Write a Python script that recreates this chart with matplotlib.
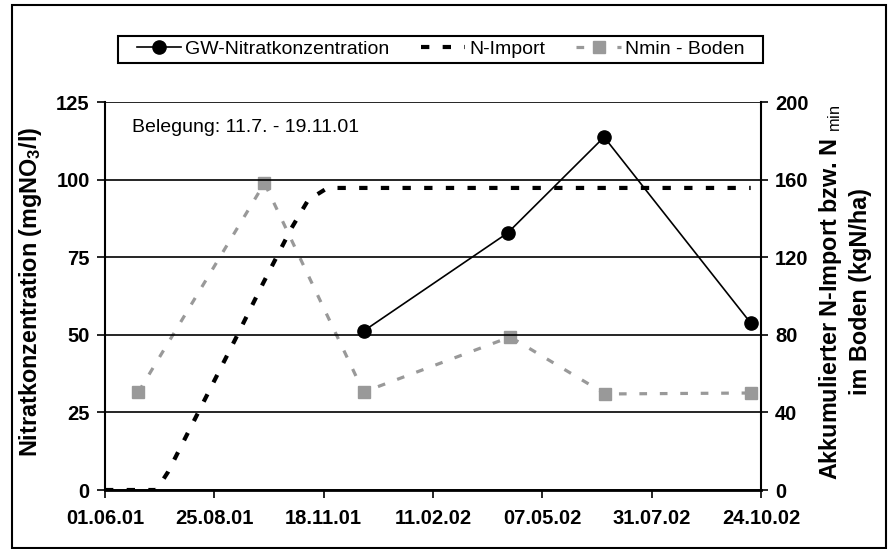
import matplotlib
matplotlib.use("Agg")
import matplotlib.pyplot as plt
from matplotlib.patches import Rectangle
from datetime import datetime

# ---------------- data ----------------
gw_dates = ["19.12.01", "10.04.02", "24.06.02", "16.10.02"]
gw_values = [51.2, 82.8, 113.7, 53.8]

nmin_dates = ["27.06.01", "03.10.01", "19.12.01", "12.04.02", "25.06.02", "16.10.02"]
nmin_values = [50.5, 158.2, 50.5, 78.9, 49.5, 50.0]

nimport_dates = ["01.06.01", "11.07.01", "20.07.01", "19.08.01", "10.09.01",
                 "02.10.01", "24.10.01", "06.11.01", "21.11.01", "16.10.02"]
nimport_values = [0, 0, 9.3, 48.5, 77.3, 106.7, 135.0, 149.5, 155.7, 155.7]

xtick_labels = ["01.06.01", "25.08.01", "18.11.01", "11.02.02", "07.05.02", "31.07.02", "24.10.02"]
left_ticks = [0, 25, 50, 75, 100, 125]
right_ticks = [0, 40, 80, 120, 160, 200]

legend_labels = ["GW-Nitratkonzentration", "N-Import", "Nmin - Boden"]
left_label = r"Nitratkonzentration (mgNO$_{\mathbf{3}}$/l)"
right_label_1 = r"Akkumulierter N-Import bzw. N $_{\mathrm{min}}$"
right_label_2 = "im Boden (kgN/ha)"
note_text = "Belegung: 11.7. - 19.11.01"


def d(s):
    return datetime.strptime(s, "%d.%m.%y")


plt.rcParams["font.family"] = ["Liberation Sans", "DejaVu Sans"]
plt.rcParams["mathtext.fontset"] = "custom"
plt.rcParams["mathtext.rm"] = "Liberation Sans"
plt.rcParams["mathtext.bf"] = "Liberation Sans:bold"

W, H = 889, 549
fig = plt.figure(figsize=(W / 100, H / 100), dpi=100)
ax = fig.add_axes([105 / W, 1 - 490 / H, 656 / W, 388 / H])
ax2 = ax.twinx()

gray = "#999999"

# N-Import (right axis)
l_imp, = ax2.plot([d(s) for s in nimport_dates], nimport_values, color="black",
                  lw=3.0, linestyle=(0, (2.0, 3.2)), dash_capstyle="butt", zorder=3)
# Nmin (right axis)
l_nmin, = ax2.plot([d(s) for s in nmin_dates], nmin_values, color=gray, lw=2.3,
                   linestyle=(0, (2.4, 4.0)), marker="s", markersize=8.8,
                   markerfacecolor=gray, markeredgecolor=gray, zorder=3)
# GW (left axis)
l_gw, = ax.plot([d(s) for s in gw_dates], gw_values, color="black", lw=1.2,
                marker="o", markersize=9.5, zorder=4)

ax.set_zorder(ax2.get_zorder() + 1)
ax.patch.set_visible(False)

# axes limits / ticks
xt = [d(s) for s in xtick_labels]
ax.set_xlim(xt[0], xt[-1])
ax.set_xticks(xt)
ax.set_xticklabels(xtick_labels)
ax.set_ylim(0, 125)
ax.set_yticks(left_ticks)
ax2.set_ylim(0, 200)
ax2.set_yticks(right_ticks)

for a in (ax, ax2):
    for sp in a.spines.values():
        sp.set_visible(False)
ax.spines["left"].set_visible(True)
ax.spines["left"].set_linewidth(1.5)
ax.spines["bottom"].set_visible(True)
ax.spines["bottom"].set_linewidth(2.0)
ax2.spines["right"].set_visible(True)
ax2.spines["right"].set_linewidth(1.5)

ax.yaxis.grid(True, color="black", lw=1.2)
ax.set_axisbelow(True)

ax.tick_params(axis="y", direction="out", length=6, width=1.2, pad=5)
ax.tick_params(axis="x", direction="out", length=6, width=1.2, pad=8)
ax2.tick_params(axis="y", direction="out", length=5, width=1.2, pad=5)
for lab in ax.get_xticklabels() + ax.get_yticklabels() + ax2.get_yticklabels():
    lab.set_fontsize(14.5)
    lab.set_fontweight("bold")

# axis labels
fig.text(31 / W, 1 - 292 / H, left_label, rotation=90, ha="center", va="center",
         fontsize=16.8, fontweight="bold")
fig.text(830 / W, 1 - 292 / H, right_label_1, rotation=90, ha="center", va="center",
         fontsize=16.8, fontweight="bold")
fig.text(861 / W, 1 - 292 / H, right_label_2, rotation=90, ha="center", va="center",
         fontsize=16.8, fontweight="bold")

# annotation
ax.text((132 - 105) / 656, (490 - 128) / 388, note_text, transform=ax.transAxes,
        ha="left", va="center", fontsize=14)

# legend (frame drawn separately)
leg = fig.legend([l_gw, l_imp, l_nmin], legend_labels, ncol=3,
                 loc="center", bbox_to_anchor=((118 + 763) / 2 / W, 1 - 49.5 / H),
                 borderaxespad=0, borderpad=0.2, fontsize=14, handlelength=2.3,
                 handletextpad=0.2, columnspacing=1.6, frameon=False)
fig.patches.append(Rectangle((118 / W, 1 - 63 / H), (763 - 118) / W, 27 / H,
                             transform=fig.transFigure, fill=False,
                             edgecolor="black", lw=1.5))

# outer border
fig.patches.append(Rectangle((12 / W, 1 / H), (886 - 12) / W, (544 - 1) / H,
                             transform=fig.transFigure, fill=False,
                             edgecolor="black", lw=1.5))

fig.savefig("out.png", dpi=100)
